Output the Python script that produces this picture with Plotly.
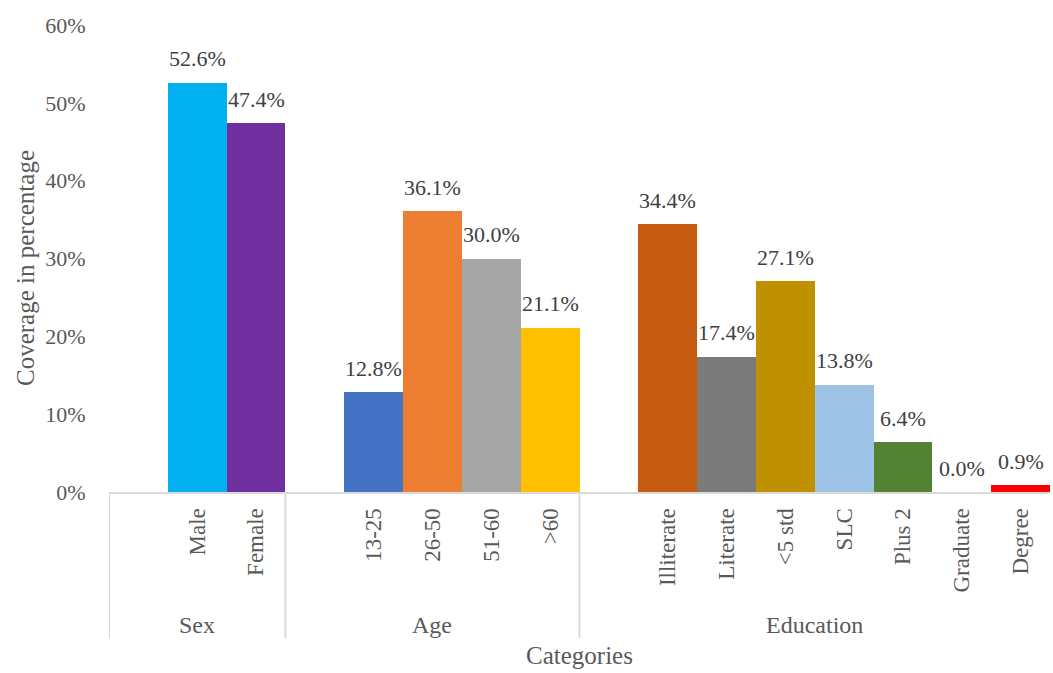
import plotly.graph_objects as go

# Coverage by category group (percent)
groups = ["Sex", "Age", "Education"]
sex_labels = ["Male", "Female"]
sex_values = [52.6, 47.4]
age_labels = ["13-25", "26-50", "51-60", ">60"]
age_values = [12.8, 36.1, 30.0, 21.1]
edu_labels = ["Illiterate", "Literate", "<5 std", "SLC", "Plus 2", "Graduate", "Degree"]
edu_values = [34.4, 17.4, 27.1, 13.8, 6.4, 0.0, 0.9]

sex_colors = ["#00B0F0", "#7030A0"]
age_colors = ["#4472C4", "#ED7D31", "#A5A5A5", "#FFC000"]
edu_colors = ["#C55A11", "#7B7B7B", "#BF9000", "#9DC3E6", "#548235", "#FFFFFF", "#FF0000"]

group_data = [
    (sex_labels, sex_values, sex_colors),
    (age_labels, age_values, age_colors),
    (edu_labels, edu_values, edu_colors),
]

FONT = "Liberation Serif, Times New Roman, serif"
GRAY = "#595959"
LABEL = "#404040"
LINE = "#D9D9D9"

# Lay out slots: each group begins with one empty slot, then its bars
xs, ys, cols, labs = [], [], [], []
bounds = []  # (start, end) slot edges for each group
slot = 0
for labels, values, colors in group_data:
    start = slot - 0.5
    slot += 1  # leading empty slot
    for lab, val, col in zip(labels, values, colors):
        xs.append(slot)
        ys.append(val)
        cols.append(col)
        labs.append(lab)
        slot += 1
    bounds.append((start, slot - 0.5))

fig = go.Figure(
    go.Bar(
        x=xs,
        y=ys,
        marker=dict(color=cols, line=dict(width=0)),
        width=1.0,
        showlegend=False,
        hovertemplate="%{y:.1f}%<extra></extra>",
    )
)

plot_h = 467.0
line_bottom = -(638 - 492) / plot_h

shapes = []
for a, b in bounds:
    shapes.append(dict(type="line", xref="x", yref="paper", x0=a, x1=a,
                       y0=0, y1=line_bottom, line=dict(color=LINE, width=2)))

annotations = []
# value labels above each bar
for x, y in zip(xs, ys):
    annotations.append(dict(x=x, y=y, xref="x", yref="y", text=f"{y:.1f}%",
                            showarrow=False, yanchor="middle", yshift=24,
                            font=dict(family=FONT, size=22, color=LABEL)))
# group labels under the category labels
for name, (a, b) in zip(groups, bounds):
    annotations.append(dict(x=(a + b) / 2, y=-(625 - 492) / plot_h, xref="x", yref="paper",
                            text=name, showarrow=False, yanchor="middle",
                            font=dict(family=FONT, size=24, color=GRAY)))
annotations.append(dict(x=0.5, y=-(655 - 492) / plot_h, xref="paper", yref="paper",
                        text="Categories", showarrow=False, yanchor="middle",
                        font=dict(family=FONT, size=25, color=GRAY)))
annotations.append(dict(x=-(109 - 25) / 941.0, y=(492 - 268) / plot_h, xref="paper", yref="paper",
                        text="Coverage in percentage", showarrow=False, textangle=-90,
                        xanchor="center", yanchor="middle",
                        font=dict(family=FONT, size=25, color=GRAY)))

fig.update_layout(
    width=1053,
    height=673,
    margin=dict(l=109, r=3, t=25, b=181),
    paper_bgcolor="white",
    plot_bgcolor="white",
    bargap=0,
    shapes=shapes,
    annotations=annotations,
    xaxis=dict(
        range=[bounds[0][0], bounds[-1][1]],
        tickvals=xs,
        ticktext=labs,
        tickangle=-90,
        ticks="outside",
        ticklen=5,
        tickcolor="rgba(0,0,0,0)",
        tickfont=dict(family=FONT, size=23, color=GRAY),
        showgrid=False,
        zeroline=False,
        showline=True,
        linecolor=LINE,
        linewidth=2,
        fixedrange=True,
    ),
    yaxis=dict(
        range=[0, 60],
        dtick=10,
        ticksuffix="%",
        ticks="outside",
        ticklen=18,
        tickcolor="rgba(0,0,0,0)",
        tickfont=dict(family=FONT, size=22, color=GRAY),
        showgrid=False,
        zeroline=False,
        showline=False,
        fixedrange=True,
    ),
)

fig.write_html("out.html")
